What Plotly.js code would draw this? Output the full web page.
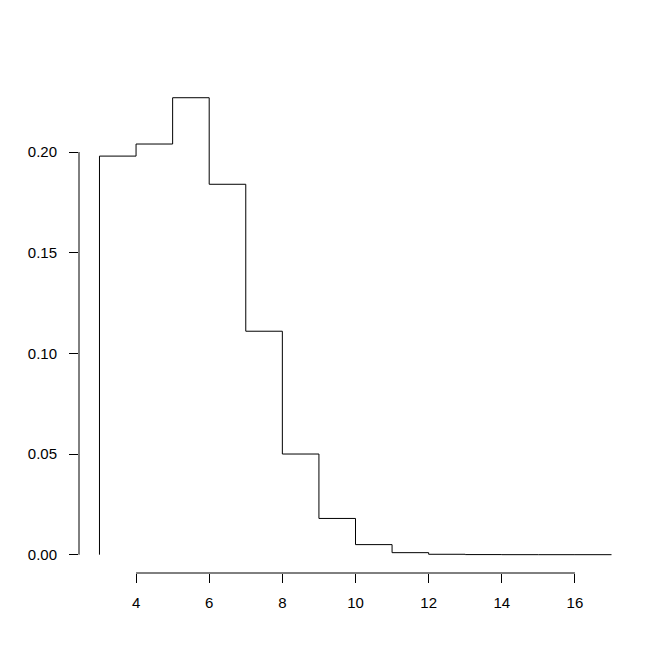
<!DOCTYPE html>
<html>
<head>
<meta charset="utf-8">
<script src="https://cdn.plot.ly/plotly-3.0.1.min.js"></script>
<style>html,body{margin:0;padding:0;background:#fff;}#chart{width:672px;height:671px;}</style>
</head>
<body>
<div id="chart"></div>
<script>
var xValues = [3, 4, 5, 6, 7, 8, 9, 10, 11, 12, 13, 14, 15, 16, 17];
var yValues = [0, 0.198, 0.204, 0.227, 0.184, 0.111, 0.050, 0.018, 0.005, 0.001, 0.0002, 0.00005, 0.00001, 0, 0];
var xTicks = [4, 6, 8, 10, 12, 14, 16];
var yTicks = [0, 0.05, 0.10, 0.15, 0.20];
var yTickLabels = ["0.00", "0.05", "0.10", "0.15", "0.20"];

var trace = {
  x: xValues, y: yValues, type: 'scatter', mode: 'lines',
  line: {shape: 'vh', color: '#000', width: 1},
  hoverinfo: 'skip'
};

var font = {family: 'Liberation Sans, Arial, sans-serif', size: 15, color: '#000'};
var layout = {
  width: 672, height: 671,
  margin: {l: 78.6, r: 40.2, t: 79, b: 98, pad: 0},
  paper_bgcolor: '#fff', plot_bgcolor: '#fff',
  showlegend: false,
  font: font,
  xaxis: {
    range: [2.44, 17.56], showgrid: false, zeroline: false, showline: false,
    tickmode: 'array', tickvals: xTicks, ticktext: xTicks.map(String),
    ticks: 'outside', ticklen: 9, tickwidth: 1, tickcolor: '#000',
    tickfont: font, ticklabelstandoff: 7
  },
  yaxis: {
    range: [-0.0091, 0.2363], showgrid: false, zeroline: false, showline: false,
    tickmode: 'array', tickvals: yTicks, ticktext: yTickLabels,
    ticks: 'outside', ticklen: 9, tickwidth: 1, tickcolor: '#000',
    tickfont: font, ticklabelstandoff: 9
  },
  shapes: [
    {type: 'line', xref: 'x', yref: 'paper', x0: xTicks[0], x1: xTicks[xTicks.length - 1], y0: 0, y1: 0, line: {color: '#000', width: 1}},
    {type: 'line', xref: 'paper', yref: 'y', x0: 0, x1: 0, y0: yTicks[0], y1: yTicks[yTicks.length - 1], line: {color: '#000', width: 1}}
  ]
};

Plotly.newPlot('chart', [trace], layout, {displayModeBar: false, staticPlot: true});
</script>
</body>
</html>
